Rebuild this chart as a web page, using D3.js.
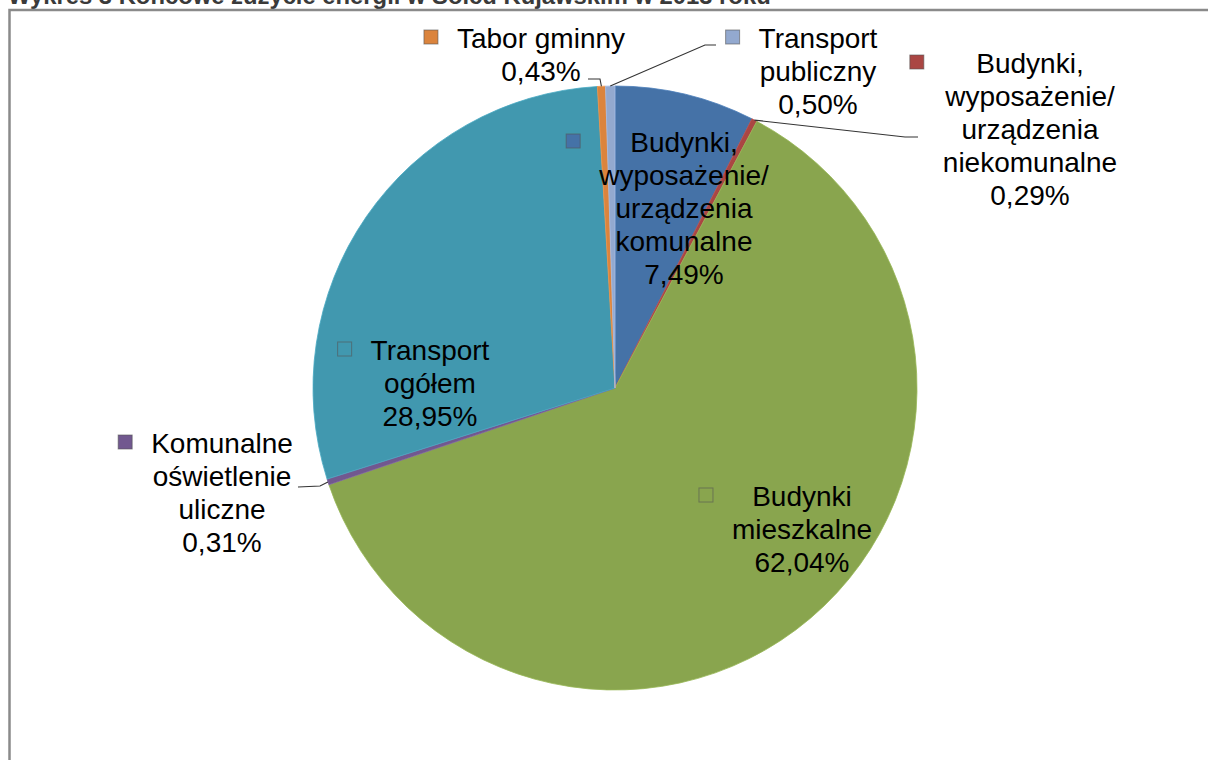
<!DOCTYPE html>
<html>
<head>
<meta charset="utf-8">
<script src="https://cdn.jsdelivr.net/npm/d3@7"></script>
<style>
  body { margin: 0; background: #fff; }
  text { font-family: "Liberation Sans", Arial, sans-serif; }
</style>
</head>
<body>
<div class="chart"></div>
<script>
// Data (clockwise from 12 o'clock)
const categories = [
  "Budynki,\nwyposażenie/\nurządzenia\nkomunalne",
  "Budynki,\nwyposażenie/\nurządzenia\nniekomunalne",
  "Budynki\nmieszkalne",
  "Komunalne\noświetlenie\nuliczne",
  "Transport\nogółem",
  "Tabor gminny",
  "Transport\npubliczny"
];
const values = [7.49, 0.29, 62.04, 0.31, 28.95, 0.43, 0.5];
const colors = ["#4572A7", "#AA4643", "#89A54E", "#71588F", "#4198AF", "#DB843D", "#93A9CF"];

const title = "Wykres 3 Końcowe zużycie energii w Solcu Kujawskim w 2013 roku";

// Label layout (centre x, first baseline y, leader elbow points)
const labelLayout = [
  { x: 684, y: 152, leader: null },
  { x: 1030, y: 73, leader: [[905, 137], [918, 137]] },
  { x: 802, y: 506, leader: null },
  { x: 222, y: 453, leader: [[320, 486], [298, 487]] },
  { x: 430, y: 360, leader: null },
  { x: 541, y: 48, leader: [[600, 79], [588, 79]] },
  { x: 818, y: 48, leader: [[705, 45], [716, 45]] }
];

const width = 1208;
const height = 760;
const cx = 615, cy = 388, radius = 302;
const lineH = 33;

const svg = d3
  .select(".chart")
  .append("svg")
  .attr("width", width)
  .attr("height", height);

// Title (cut off at the top in the reference)
svg
  .append("text")
  .attr("x", 8)
  .attr("y", 3.5)
  .text(title)
  .attr("font-size", 23.8)
  .attr("font-weight", "bold")
  .attr("fill", "#3a3a3a");

// Chart frame
svg
  .append("rect")
  .attr("x", 9.5)
  .attr("y", 10)
  .attr("width", width + 20)
  .attr("height", height + 20)
  .attr("fill", "none")
  .attr("stroke", "#8a8a8a")
  .attr("stroke-width", 2.5);

const pie = d3.pie().sort(null).value((d) => d);
const arcs = pie(values);
const arc = d3.arc().innerRadius(0).outerRadius(radius);
const edge = d3.arc().innerRadius(radius).outerRadius(radius);

const g = svg.append("g").attr("transform", `translate(${cx},${cy})`);

g.selectAll("path.slice")
  .data(arcs)
  .enter()
  .append("path")
  .attr("class", "slice")
  .attr("d", arc)
  .attr("fill", (d, i) => colors[i])
  .attr("stroke", (d, i) => d3.color(colors[i]).brighter(0.3))
  .attr("stroke-width", 0.8);

// Leader lines
arcs.forEach((d, i) => {
  const lay = labelLayout[i];
  if (!lay.leader) return;
  const p = edge.centroid(d);
  const pts = [[cx + p[0], cy + p[1]]].concat(lay.leader);
  svg
    .append("path")
    .attr("d", d3.line()(pts))
    .attr("fill", "none")
    .attr("stroke", "#333")
    .attr("stroke-width", 1.1);
});

// Labels
arcs.forEach((d, i) => {
  const lay = labelLayout[i];
  const lines = categories[i].split("\n");
  lines.push(d3.format(".2f")(values[i]).replace(".", ",") + "%");
  const lg = svg.append("g");
  let maxW = 0;
  lines.forEach((ln, k) => {
    const t = lg
      .append("text")
      .attr("x", lay.x)
      .attr("y", lay.y + k * lineH)
      .attr("text-anchor", "middle")
      .attr("font-size", 28)
      .attr("fill", "#000")
      .text(ln);
    maxW = Math.max(maxW, t.node().getComputedTextLength());
  });
  lg.insert("rect", "text")
    .attr("x", lay.x - maxW / 2 - 33)
    .attr("y", lay.y - 18)
    .attr("width", 14)
    .attr("height", 14)
    .attr("fill", colors[i])
    .attr("stroke", "#555")
    .attr("stroke-opacity", 0.6)
    .attr("stroke-width", 1);
});
</script>
</body>
</html>
